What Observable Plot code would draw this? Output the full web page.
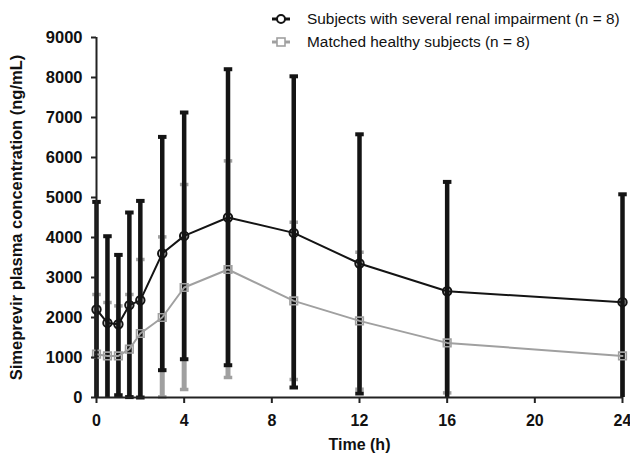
<!DOCTYPE html>
<html><head><meta charset="utf-8">
<script src="https://cdn.jsdelivr.net/npm/d3@7"></script>
<script src="https://cdn.jsdelivr.net/npm/@observablehq/plot@0.6"></script>
<style>
body{margin:0;background:#fff;}
#wrap{position:relative;width:630px;height:458px;font-family:"Liberation Sans",Arial,sans-serif;}
#legend{position:absolute;left:271px;top:8px;font-size:15.4px;color:#111;}
.row{display:flex;align-items:center;height:22.4px;white-space:nowrap;}
.row svg{margin-right:16px;}
</style></head><body><div id="wrap"><div id="legend"></div><div id="chart"></div></div>
<script>
const times = [0, 0.5, 1, 1.5, 2, 3, 4, 6, 9, 12, 16, 24];
const renalMean  = [2200, 1865, 1830, 2310, 2430, 3600, 4040, 4500, 4115, 3350, 2657, 2383];
const renalUpper = [4890, 4032, 3565, 4625, 4915, 6515, 7125, 8207, 8030, 6580, 5390, 5080];
const renalLower = [-490, -300, 57, 10, -30, 683, 957, 807, 250, 100, -76, -314];
const healthyMean  = [1083, 1040, 1040, 1208, 1600, 2000, 2750, 3200, 2415, 1915, 1365, 1040];
const healthyUpper = [2575, 2375, 2290, 2575, 3450, 4015, 5325, 5915, 4382, 3632, 2615, 2380];
const healthyLower = [-410, -295, -210, -160, -250, 15, 200, 500, 450, 207, 115, -300];
const xTicks = [0, 4, 8, 12, 16, 20, 24];
const yTicks = [0, 1000, 2000, 3000, 4000, 5000, 6000, 7000, 8000, 9000];
const seriesNames = ["Subjects with several renal impairment (n = 8)", "Matched healthy subjects (n = 8)"];

const black = "#141414", grey = "#a0a0a0";
const renal = times.map((t, i) => ({t, mean: renalMean[i], hi: renalUpper[i], lo: renalLower[i]}));
const healthy = times.map((t, i) => ({t, mean: healthyMean[i], hi: healthyUpper[i], lo: healthyLower[i]}));
const cap = {draw(ctx, size) { const w = Math.sqrt(size); ctx.moveTo(-w / 2, 0); ctx.lineTo(w / 2, 0); }};
const visibleLo = d => d.lo >= -40;

const chart = Plot.plot({
  width: 630, height: 458,
  marginLeft: 96, marginRight: 8, marginTop: 37, marginBottom: 61,
  style: {fontFamily: "'Liberation Sans', Arial, sans-serif", fontSize: "15px", fontWeight: "bold", color: "#111", background: "#fff"},
  x: {domain: [0, 24]},
  y: {domain: [0, 9000], clamp: true},
  marks: [
    Plot.ruleX(healthy, {x: "t", y1: "lo", y2: "hi", stroke: grey, strokeWidth: 5}),
    Plot.dot(healthy, {x: "t", y: "hi", symbol: cap, r: 4.8, stroke: grey, strokeWidth: 3.5}),
    Plot.dot(healthy, {x: "t", y: "lo", filter: visibleLo, symbol: cap, r: 4.8, stroke: grey, strokeWidth: 3.5}),
    Plot.ruleX(renal, {x: "t", y1: "lo", y2: "hi", stroke: black, strokeWidth: 4.5}),
    Plot.dot(renal, {x: "t", y: "hi", symbol: cap, r: 4.8, stroke: black, strokeWidth: 4}),
    Plot.dot(renal, {x: "t", y: "lo", filter: visibleLo, symbol: cap, r: 4.8, stroke: black, strokeWidth: 4}),
    Plot.line(healthy, {x: "t", y: "mean", stroke: grey, strokeWidth: 2}),
    Plot.dot(healthy, {x: "t", y: "mean", symbol: "square", r: 4.3, stroke: grey, strokeWidth: 1.6, fill: "none"}),
    Plot.line(renal, {x: "t", y: "mean", stroke: black, strokeWidth: 2}),
    Plot.dot(renal, {x: "t", y: "mean", symbol: "circle", r: 4.2, stroke: black, strokeWidth: 2, fill: "none"}),
    Plot.ruleX([0], {stroke: "#222", strokeWidth: 2}),
    Plot.ruleY([0], {stroke: "#222", strokeWidth: 2}),
    Plot.axisX({ticks: xTicks, tickSize: 6, tickPadding: 11, stroke: "#222", strokeWidth: 2, fill: "#111",
      label: "Time (h)", labelAnchor: "center", labelArrow: "none", labelOffset: 52, fontSize: 16}),
    Plot.axisY({ticks: yTicks, tickSize: 5, tickPadding: 9, stroke: "#222", strokeWidth: 2, fill: "#111",
      tickFormat: d => String(d),
      label: "Simeprevir plasma concentration (ng/mL)", labelAnchor: "center", labelArrow: "none", labelOffset: 86, fontSize: 16.5})
  ]
});
document.getElementById("chart").appendChild(chart);

const legend = document.getElementById("legend");
const symbols = [
  `<svg width="20" height="12"><line x1="1" y1="6" x2="19" y2="6" stroke="${black}" stroke-width="3"/><circle cx="10" cy="6" r="4" fill="#fff" stroke="${black}" stroke-width="2"/></svg>`,
  `<svg width="20" height="12"><line x1="1" y1="6" x2="19" y2="6" stroke="${grey}" stroke-width="3"/><rect x="6" y="2" width="8" height="8" fill="#fff" stroke="${grey}" stroke-width="1.6"/></svg>`
];
seriesNames.forEach((name, i) => {
  const row = document.createElement("div");
  row.className = "row";
  row.innerHTML = symbols[i] + `<span>${name}</span>`;
  legend.appendChild(row);
});
</script>
</body></html>
